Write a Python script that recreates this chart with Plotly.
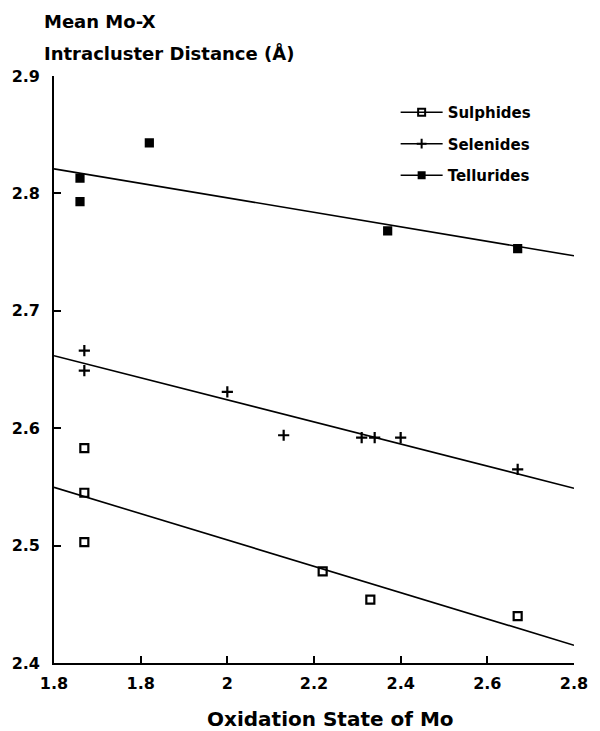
import numpy as np
import plotly.graph_objects as go

# ---- data ----
sul_x = [1.67, 1.67, 1.67, 2.22, 2.33, 2.67]
sul_y = [2.583, 2.545, 2.503, 2.478, 2.454, 2.440]

sel_x = [1.67, 1.67, 2.00, 2.13, 2.31, 2.34, 2.40, 2.67]
sel_y = [2.666, 2.649, 2.631, 2.594, 2.592, 2.592, 2.592, 2.565]

tel_x = [1.66, 1.66, 1.82, 2.37, 2.67]
tel_y = [2.813, 2.793, 2.843, 2.768, 2.753]

series_names = ["Sulphides", "Selenides", "Tellurides"]

x_tickvals = [1.6, 1.8, 2.0, 2.2, 2.4, 2.6, 2.8]
x_ticktext = ["1.8", "1.8", "2", "2.2", "2.4", "2.6", "2.8"]
y_tickvals = [2.4, 2.5, 2.6, 2.7, 2.8, 2.9]
y_ticktext = ["2.4", "2.5", "2.6", "2.7", "2.8", "2.9"]
x_range = [1.6, 2.8]
y_range = [2.4, 2.9]

FONT = "DejaVu Sans"
BLACK = "#000000"

symbols = {"Sulphides": "square-open", "Selenides": "cross-thin-open", "Tellurides": "square"}
sizes = {"Sulphides": 8, "Selenides": 8, "Tellurides": 7}

fig = go.Figure()

data = {"Sulphides": (sul_x, sul_y), "Selenides": (sel_x, sel_y), "Tellurides": (tel_x, tel_y)}

for name in series_names:
    xs, ys = data[name]
    slope, icpt = np.polyfit(xs, ys, 1)
    xf = np.array(x_range)
    fig.add_trace(go.Scatter(x=xf, y=slope * xf + icpt, mode="lines",
                             line=dict(color=BLACK, width=1.6), showlegend=False,
                             hoverinfo="skip"))
    fig.add_trace(go.Scatter(x=xs, y=ys, mode="markers", showlegend=False,
                             marker=dict(symbol=symbols[name], size=sizes[name], color=BLACK,
                                         line=dict(color=BLACK, width=2.2))))

# legend proxies
for name in series_names:
    fig.add_trace(go.Scatter(x=[None], y=[None], mode="lines+markers", name=name,
                             legendgroup=name,
                             line=dict(color=BLACK, width=1.6),
                             marker=dict(symbol=symbols[name], size=sizes[name] - 1, color=BLACK,
                                         line=dict(color=BLACK, width=2))))

fig.update_layout(
    width=600, height=731,
    margin=dict(l=52, r=18, t=76, b=68),
    paper_bgcolor="white", plot_bgcolor="white",
    font=dict(family=FONT, size=16, color=BLACK, weight="bold"),
    showlegend=True,
    legend=dict(x=0.657, y=0.966, xanchor="left", yanchor="top",
                font=dict(family=FONT, size=15, color=BLACK, weight="bold"),
                itemwidth=42, tracegroupgap=9, bgcolor="rgba(0,0,0,0)"),
    xaxis=dict(range=x_range, tickvals=x_tickvals, ticktext=x_ticktext,
               showgrid=False, zeroline=False, showline=True, linecolor=BLACK, linewidth=1.6,
               ticks="inside", ticklen=7, tickcolor=BLACK, tickwidth=1.5,
               ticklabelstandoff=5,
               tickfont=dict(family=FONT, size=16, color=BLACK, weight="bold")),
    yaxis=dict(range=y_range, tickvals=y_tickvals, ticktext=y_ticktext,
               showgrid=False, zeroline=False, showline=True, linecolor=BLACK, linewidth=1.6,
               ticks="inside", ticklen=7, tickcolor=BLACK, tickwidth=1.5,
               ticklabelstandoff=9,
               tickfont=dict(family=FONT, size=16, color=BLACK, weight="bold")),
    annotations=[
        dict(text="Mean Mo-X", xref="paper", yref="paper", x=-0.024, y=1.093,
             xanchor="left", yanchor="middle", showarrow=False,
             font=dict(family=FONT, size=18, color=BLACK, weight="bold")),
        dict(text="Intracluster Distance (Å)", xref="paper", yref="paper", x=-0.024, y=1.040,
             xanchor="left", yanchor="middle", showarrow=False,
             font=dict(family=FONT, size=18, color=BLACK, weight="bold")),
        dict(text="Oxidation State of Mo", xref="paper", yref="paper", x=0.532, y=-0.095,
             xanchor="center", yanchor="middle", showarrow=False,
             font=dict(family=FONT, size=20, color=BLACK, weight="bold")),
    ],
)

fig.write_html("out.html")
